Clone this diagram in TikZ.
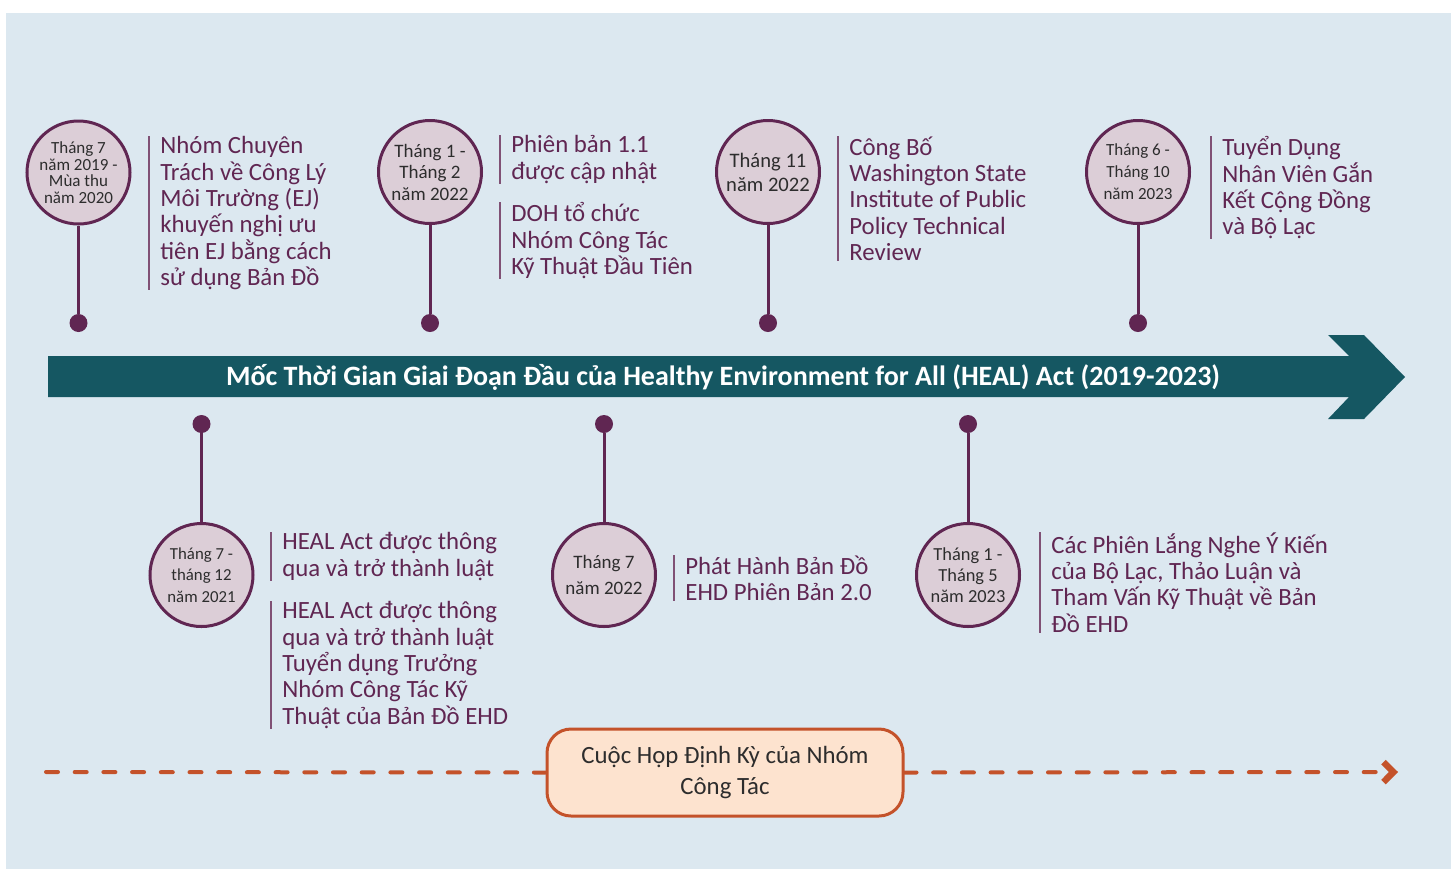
\documentclass[tikz,border=0pt]{standalone}
\usepackage{fontspec}
\setmainfont{Carlito}
\usetikzlibrary{arrows.meta, positioning}
\definecolor{bgblue}{RGB}{220,232,240}
\definecolor{bandteal}{RGB}{21,87,98}
\definecolor{plum}{RGB}{96,38,82}
\definecolor{plumlight}{RGB}{220,206,215}
\definecolor{datetext}{RGB}{45,45,45}
\definecolor{meetorange}{RGB}{196,82,42}
\definecolor{meetfill}{RGB}{253,227,207}

\begin{document}
\begin{tikzpicture}[
    x=0.5pt, y=-0.5pt,
    datecircle/.style={circle, draw=plum, line width=1.5pt, fill=plumlight, minimum size=51.5pt, inner sep=0pt, align=center, text=datetext},
    pin/.style={circle, fill=plum, minimum size=9pt, inner sep=0pt},
    stem/.style={plum, line width=1.5pt},
    event/.style={anchor=north west, align=left, text=plum, inner xsep=5.5pt, inner ysep=0pt, font=\fontsize{12.4}{13.2}\selectfont},
    evbar/.style={plum!80, line width=0.8pt},
    meeting/.style={draw=meetorange, line width=1.5pt, fill=meetfill, rounded corners=12pt, minimum width=178pt, minimum height=43.5pt, align=center, text=datetext, font=\fontsize{12.4}{15.5}\selectfont},
    meetline/.style={meetorange, line width=2pt, line cap=round, dash pattern=on 6pt off 8.35pt}
]
    \useasboundingbox (0,0) rectangle (1451,869);
    \fill[bgblue] (6,13) rectangle (1451,869);

    % Timeline band
    \fill[bandteal] (48,356) -- (1349,356) -- (1328,335) -- (1364,335) -- (1405,377)
        -- (1364,419) -- (1328,419) -- (1349,397) -- (48,397) -- cycle;
    \node[font=\bfseries\fontsize{14}{16}\selectfont, text=white] (title) at (723,377)
        {Mốc Thời Gian Giai Đoạn Đầu của Healthy Environment for All (HEAL) Act (2019-2023)};

    % Events above the band
    \node[datecircle, font=\fontsize{8.5}{8.25}\selectfont] (jul19) at (78.5,172.5) {Tháng 7\\năm 2019 -\\Mùa thu\\năm 2020};
    \node[datecircle, font=\fontsize{9.5}{10.75}\selectfont] (jan22) at (430,172) {Tháng 1 -\\Tháng 2\\năm 2022};
    \node[datecircle, font=\fontsize{10.3}{12}\selectfont] (nov22) at (768,172) {Tháng 11\\năm 2022};
    \node[datecircle, font=\fontsize{8.5}{11}\selectfont] (jun23) at (1138,172) {Tháng 6 -\\Tháng 10\\năm 2023};

    \node[pin] (jul19pin) at (78.5,323) {};
    \node[pin] (jan22pin) at (430,323) {};
    \node[pin] (nov22pin) at (768,323) {};
    \node[pin] (jun23pin) at (1138,323) {};

    \draw[stem] (jul19) -- (jul19pin);
    \draw[stem] (jan22) -- (jan22pin);
    \draw[stem] (nov22) -- (nov22pin);
    \draw[stem] (jun23) -- (jun23pin);

    \node[event] (ejgroup) at (149,136) {Nhóm Chuyên\\Trách về Công Lý\\Môi Trường (EJ)\\khuyến nghị ưu\\tiên EJ bằng cách\\sử dụng Bản Đồ};
    \node[event] (update) at (500,135) {Phiên bản 1.1\\được cập nhật};
    \node[event] (doh) at (500,202) {DOH tổ chức\\Nhóm Công Tác\\Kỹ Thuật Đầu Tiên};
    \node[event] (wsipp) at (838,136) {Công Bố\\Washington State\\Institute of Public\\Policy Technical\\Review};
    \node[event] (hiring) at (1211,136) {Tuyển Dụng\\Nhân Viên Gắn\\Kết Cộng Đồng\\và Bộ Lạc};

    % Events below the band
    \node[datecircle, font=\fontsize{8.4}{10.75}\selectfont] (jul21) at (201.5,575) {Tháng 7 -\\tháng 12\\năm 2021};
    \node[datecircle, font=\fontsize{9.5}{13}\selectfont] (jul22) at (604,575) {Tháng 7\\năm 2022};
    \node[datecircle, font=\fontsize{9.2}{10.5}\selectfont] (jan23) at (968,575) {Tháng 1 -\\Tháng 5\\năm 2023};

    \node[pin] (jul21pin) at (201.5,424) {};
    \node[pin] (jul22pin) at (604,424) {};
    \node[pin] (jan23pin) at (968,424) {};

    \draw[stem] (jul21) -- (jul21pin);
    \draw[stem] (jul22) -- (jul22pin);
    \draw[stem] (jan23) -- (jan23pin);

    \node[event] (passed) at (271,532) {HEAL Act được thông\\qua và trở thành luật};
    \node[event] (lead) at (271,601) {HEAL Act được thông\\qua và trở thành luật\\Tuyển dụng Trưởng\\Nhóm Công Tác Kỹ\\Thuật của Bản Đồ EHD};
    \node[event] (release) at (674,555) {Phát Hành Bản Đồ\\EHD Phiên Bản 2.0};
    \node[event] (tribal) at (1040,532) {Các Phiên Lắng Nghe Ý Kiến\\của Bộ Lạc, Thảo Luận và\\Tham Vấn Kỹ Thuật về Bản\\Đồ EHD};

    % Bars beside the event texts
    \draw[evbar] (ejgroup.north west) -- (ejgroup.south west);
    \draw[evbar] (update.north west) -- (update.south west);
    \draw[evbar] (doh.north west) -- (doh.south west);
    \draw[evbar] (wsipp.north west) -- (wsipp.south west);
    \draw[evbar] (hiring.north west) -- (hiring.south west);
    \draw[evbar] (passed.north west) -- (passed.south west);
    \draw[evbar] (lead.north west) -- (lead.south west);
    \draw[evbar] (release.north west) -- (release.south west);
    \draw[evbar] (tribal.north west) -- (tribal.south west);

    % Recurring meetings
    \node[meeting] (meet) at (725,772.5) {Cuộc Họp Định Kỳ của Nhóm\\Công Tác};
    \coordinate (meetstart) at (46,772);
    \coordinate (meetend) at (1398,772);
    \draw[meetline] (meetstart) -- (meet.west);
    \draw[meetline, -{Straight Barb[length=5pt, width=10pt, line width=3.2pt]}] (meet.east) -- (meetend);
\end{tikzpicture}
\end{document}
